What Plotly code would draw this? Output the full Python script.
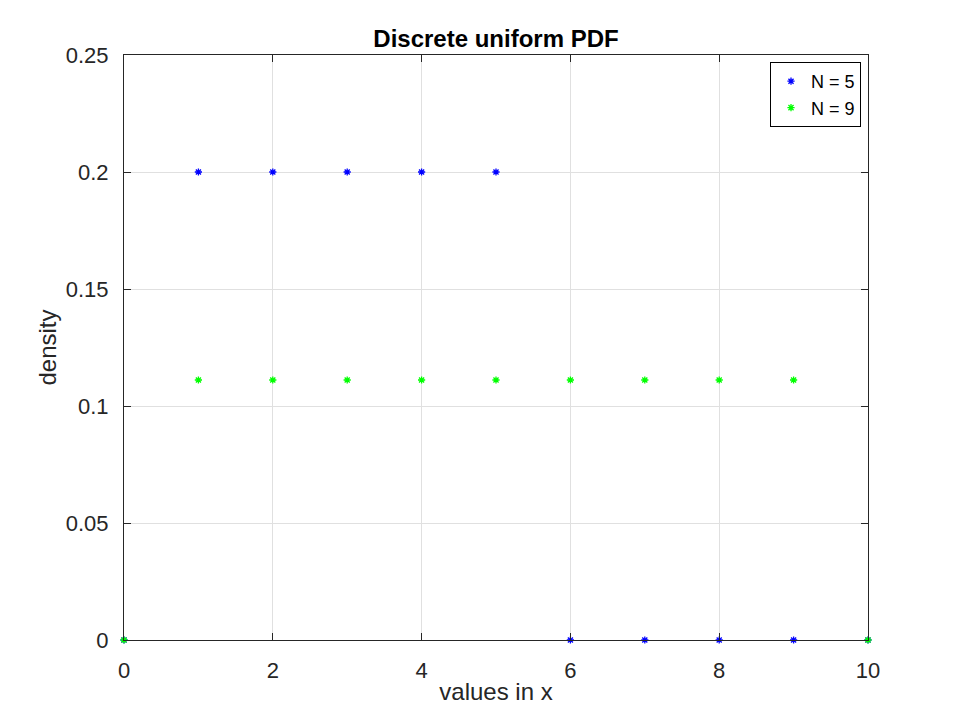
import plotly.graph_objects as go

x_vals = [0, 1, 2, 3, 4, 5, 6, 7, 8, 9, 10]
pdf_n5 = [0, 0.2, 0.2, 0.2, 0.2, 0.2, 0, 0, 0, 0, 0]
pdf_n9 = [0, 1/9, 1/9, 1/9, 1/9, 1/9, 1/9, 1/9, 1/9, 1/9, 0]
x_ticks = [0, 2, 4, 6, 8, 10]
y_ticks = [0, 0.05, 0.1, 0.15, 0.2, 0.25]
y_labels = ['0', '0.05', '0.1', '0.15', '0.2', '0.25']

fig = go.Figure()
fig.add_trace(go.Scatter(x=x_vals, y=pdf_n5, mode='markers', name='N = 5', cliponaxis=False,
                         marker=dict(symbol='asterisk-open', size=6, color='#0000ff',
                                     line=dict(width=1.3, color='#0000ff'))))
fig.add_trace(go.Scatter(x=x_vals, y=pdf_n9, mode='markers', name='N = 9', cliponaxis=False,
                         marker=dict(symbol='asterisk-open', size=6, color='#00ff00',
                                     line=dict(width=1.3, color='#00ff00'))))

# page body has an 8px margin, so shift the plot area back by that much
fig.update_layout(
    width=960, height=720,
    margin=dict(l=116, r=100, t=47, b=88, autoexpand=False),
    paper_bgcolor='white', plot_bgcolor='white',
    font=dict(family='Liberation Sans, Arial, sans-serif', color='#262626'),
    title=dict(text='<b>Discrete uniform PDF</b>', x=0.5, xref='paper', xanchor='center',
               y=1, yref='paper', yanchor='bottom', pad=dict(b=8),
               font=dict(size=24, color='black')),
    legend=dict(x=0.9906, y=0.988, xanchor='right', yanchor='top',
                bordercolor='black', borderwidth=1, bgcolor='white',
                font=dict(size=18, color='black'), itemwidth=30,
                tracegroupgap=0),
    showlegend=True,
)
fig.update_xaxes(range=[0, 10], tickvals=x_ticks, showline=True, linecolor='#262626',
                 linewidth=1, mirror='ticks', ticks='inside', ticklen=7,
                 tickcolor='#262626', showgrid=True, gridcolor='#e0e0e0',
                 zeroline=False, tickfont=dict(size=22), automargin=False,
                 ticklabelstandoff=11,
                 title=dict(text='values in x', font=dict(size=24), standoff=0))
fig.update_yaxes(range=[0, 0.25], tickvals=y_ticks, ticktext=y_labels, showline=True,
                 linecolor='#262626', linewidth=1, mirror='ticks', ticks='inside',
                 ticklen=7, tickcolor='#262626', showgrid=True, gridcolor='#e0e0e0',
                 zeroline=False, tickfont=dict(size=22), automargin=False,
                 ticklabelstandoff=10,
                 title=dict(text='density', font=dict(size=24), standoff=2))

fig.write_html("out.html")
